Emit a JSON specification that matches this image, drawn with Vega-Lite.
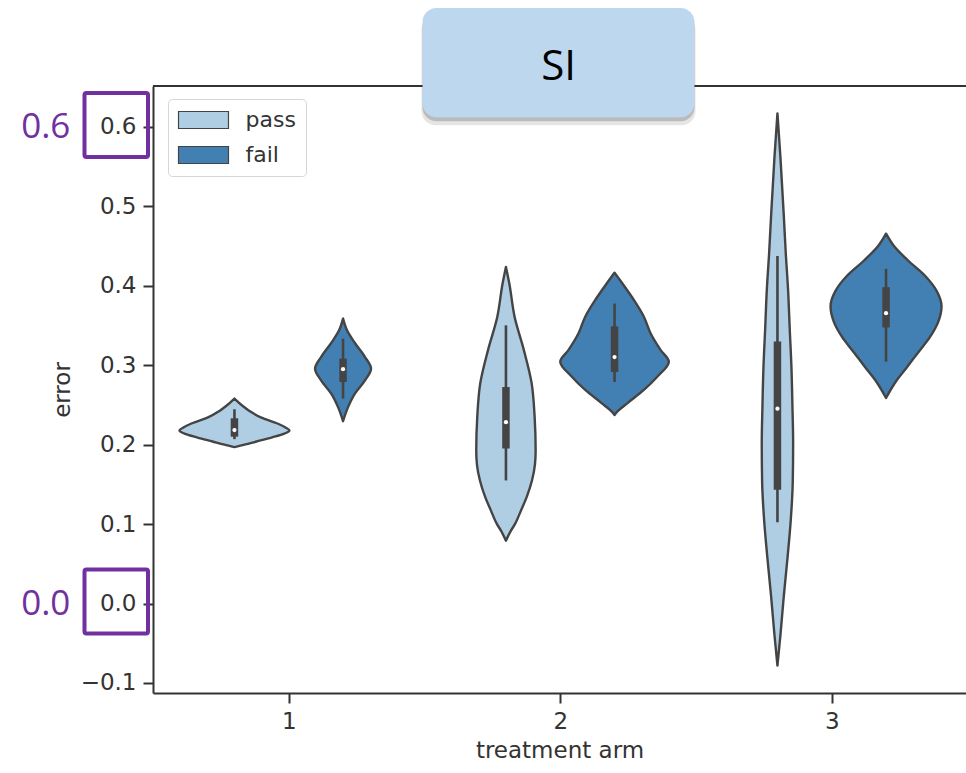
{
  "$schema": "https://vega.github.io/schema/vega-lite/v6.json",
  "width": 813,
  "height": 607,
  "autosize": {"type": "none"},
  "padding": {"left": 153, "top": 86, "right": 0, "bottom": 80},
  "background": "white",
  "config": {
    "view": {"stroke": null},
    "font": "DejaVu Sans",
    "axis": {
      "grid": false,
      "domainColor": "#333",
      "domainWidth": 2,
      "tickColor": "#333",
      "tickWidth": 2,
      "tickSize": 10,
      "labelFont": "DejaVu Sans",
      "labelFontSize": 23,
      "labelColor": "#333",
      "labelPadding": 7,
      "titleFont": "DejaVu Sans",
      "titleFontSize": 23,
      "titleFontWeight": "normal",
      "titleColor": "#333"
    }
  },
  "datasets": {
    "violins": [
      {"arm": 1, "status": "pass", "error": 0.258, "lo": 0.8, "hi": 0.8},
      {"arm": 1, "status": "pass", "error": 0.249, "lo": 0.7705, "hi": 0.8295},
      {"arm": 1, "status": "pass", "error": 0.2425, "lo": 0.7448, "hi": 0.8552},
      {"arm": 1, "status": "pass", "error": 0.234, "lo": 0.7006, "hi": 0.8994},
      {"arm": 1, "status": "pass", "error": 0.2267, "lo": 0.6416, "hi": 0.9584},
      {"arm": 1, "status": "pass", "error": 0.2217, "lo": 0.6122, "hi": 0.9878},
      {"arm": 1, "status": "pass", "error": 0.218, "lo": 0.5974, "hi": 1.0026},
      {"arm": 1, "status": "pass", "error": 0.214, "lo": 0.6158, "hi": 0.9842},
      {"arm": 1, "status": "pass", "error": 0.209, "lo": 0.6637, "hi": 0.9363},
      {"arm": 1, "status": "pass", "error": 0.204, "lo": 0.719, "hi": 0.881},
      {"arm": 1, "status": "pass", "error": 0.2, "lo": 0.7632, "hi": 0.8368},
      {"arm": 1, "status": "pass", "error": 0.197, "lo": 0.8, "hi": 0.8},

      {"arm": 1, "status": "fail", "error": 0.3588, "lo": 1.2, "hi": 1.2},
      {"arm": 1, "status": "fail", "error": 0.344, "lo": 1.1853, "hi": 1.2147},
      {"arm": 1, "status": "fail", "error": 0.3277, "lo": 1.1558, "hi": 1.2442},
      {"arm": 1, "status": "fail", "error": 0.3104, "lo": 1.119, "hi": 1.281},
      {"arm": 1, "status": "fail", "error": 0.2957, "lo": 1.0969, "hi": 1.3031},
      {"arm": 1, "status": "fail", "error": 0.281, "lo": 1.119, "hi": 1.281},
      {"arm": 1, "status": "fail", "error": 0.2646, "lo": 1.1558, "hi": 1.2442},
      {"arm": 1, "status": "fail", "error": 0.2473, "lo": 1.1816, "hi": 1.2184},
      {"arm": 1, "status": "fail", "error": 0.2296, "lo": 1.2, "hi": 1.2},

      {"arm": 2, "status": "pass", "error": 0.4238, "lo": 1.8, "hi": 1.8},
      {"arm": 2, "status": "pass", "error": 0.4033, "lo": 1.7878, "hi": 1.8122},
      {"arm": 2, "status": "pass", "error": 0.3608, "lo": 1.768, "hi": 1.832},
      {"arm": 2, "status": "pass", "error": 0.3188, "lo": 1.7337, "hi": 1.8663},
      {"arm": 2, "status": "pass", "error": 0.2772, "lo": 1.7053, "hi": 1.8947},
      {"arm": 2, "status": "pass", "error": 0.2347, "lo": 1.6943, "hi": 1.9057},
      {"arm": 2, "status": "pass", "error": 0.1927, "lo": 1.6906, "hi": 1.9094},
      {"arm": 2, "status": "pass", "error": 0.175, "lo": 1.6932, "hi": 1.9068},
      {"arm": 2, "status": "pass", "error": 0.155, "lo": 1.7042, "hi": 1.8958},
      {"arm": 2, "status": "pass", "error": 0.135, "lo": 1.7227, "hi": 1.8773},
      {"arm": 2, "status": "pass", "error": 0.117, "lo": 1.7448, "hi": 1.8552},
      {"arm": 2, "status": "pass", "error": 0.1, "lo": 1.7669, "hi": 1.8331},
      {"arm": 2, "status": "pass", "error": 0.0918, "lo": 1.7816, "hi": 1.8184},
      {"arm": 2, "status": "pass", "error": 0.0792, "lo": 1.8, "hi": 1.8},

      {"arm": 2, "status": "fail", "error": 0.4166, "lo": 2.2, "hi": 2.2},
      {"arm": 2, "status": "fail", "error": 0.4032, "lo": 2.1716, "hi": 2.2284},
      {"arm": 2, "status": "fail", "error": 0.3822, "lo": 2.1289, "hi": 2.2711},
      {"arm": 2, "status": "fail", "error": 0.3612, "lo": 2.0921, "hi": 2.3079},
      {"arm": 2, "status": "fail", "error": 0.3403, "lo": 2.0674, "hi": 2.3326},
      {"arm": 2, "status": "fail", "error": 0.3193, "lo": 2.0306, "hi": 2.3694},
      {"arm": 2, "status": "fail", "error": 0.3045, "lo": 2.0, "hi": 2.4},
      {"arm": 2, "status": "fail", "error": 0.2856, "lo": 2.0427, "hi": 2.3573},
      {"arm": 2, "status": "fail", "error": 0.2689, "lo": 2.0921, "hi": 2.3079},
      {"arm": 2, "status": "fail", "error": 0.2521, "lo": 2.1532, "hi": 2.2468},
      {"arm": 2, "status": "fail", "error": 0.2416, "lo": 2.1901, "hi": 2.2099},
      {"arm": 2, "status": "fail", "error": 0.2374, "lo": 2.2, "hi": 2.2},

      {"arm": 3, "status": "pass", "error": 0.6171, "lo": 2.8, "hi": 2.8},
      {"arm": 3, "status": "pass", "error": 0.5618, "lo": 2.789, "hi": 2.811},
      {"arm": 3, "status": "pass", "error": 0.4897, "lo": 2.7768, "hi": 2.8232},
      {"arm": 3, "status": "pass", "error": 0.4416, "lo": 2.7694, "hi": 2.8306},
      {"arm": 3, "status": "pass", "error": 0.3934, "lo": 2.7606, "hi": 2.8394},
      {"arm": 3, "status": "pass", "error": 0.3453, "lo": 2.7547, "hi": 2.8453},
      {"arm": 3, "status": "pass", "error": 0.2972, "lo": 2.7484, "hi": 2.8516},
      {"arm": 3, "status": "pass", "error": 0.2491, "lo": 2.7448, "hi": 2.8552},
      {"arm": 3, "status": "pass", "error": 0.201, "lo": 2.7422, "hi": 2.8578},
      {"arm": 3, "status": "pass", "error": 0.1529, "lo": 2.7436, "hi": 2.8564},
      {"arm": 3, "status": "pass", "error": 0.1048, "lo": 2.751, "hi": 2.849},
      {"arm": 3, "status": "pass", "error": 0.0567, "lo": 2.7632, "hi": 2.8368},
      {"arm": 3, "status": "pass", "error": 0.0085, "lo": 2.7768, "hi": 2.8232},
      {"arm": 3, "status": "pass", "error": -0.0396, "lo": 2.789, "hi": 2.811},
      {"arm": 3, "status": "pass", "error": -0.078, "lo": 2.8, "hi": 2.8},

      {"arm": 3, "status": "fail", "error": 0.4657, "lo": 3.2, "hi": 3.2},
      {"arm": 3, "status": "fail", "error": 0.4512, "lo": 3.1731, "hi": 3.2269},
      {"arm": 3, "status": "fail", "error": 0.4319, "lo": 3.119, "hi": 3.281},
      {"arm": 3, "status": "fail", "error": 0.4127, "lo": 3.0564, "hi": 3.3436},
      {"arm": 3, "status": "fail", "error": 0.3934, "lo": 3.0133, "hi": 3.3867},
      {"arm": 3, "status": "fail", "error": 0.3743, "lo": 2.9956, "hi": 3.4044},
      {"arm": 3, "status": "fail", "error": 0.355, "lo": 3.0074, "hi": 3.3926},
      {"arm": 3, "status": "fail", "error": 0.3357, "lo": 3.0379, "hi": 3.3621},
      {"arm": 3, "status": "fail", "error": 0.3165, "lo": 3.081, "hi": 3.319},
      {"arm": 3, "status": "fail", "error": 0.2972, "lo": 3.1238, "hi": 3.2762},
      {"arm": 3, "status": "fail", "error": 0.278, "lo": 3.1669, "hi": 3.2331},
      {"arm": 3, "status": "fail", "error": 0.2588, "lo": 3.2, "hi": 3.2}
    ],
    "boxes": [
      {"arm": 1, "status": "pass", "pos": 0.8, "wlo": 0.207, "q1": 0.2101, "median": 0.2185, "q3": 0.2333, "whi": 0.2446},
      {"arm": 1, "status": "fail", "pos": 1.2, "wlo": 0.258, "q1": 0.279, "median": 0.295, "q3": 0.3084, "whi": 0.3335},
      {"arm": 2, "status": "pass", "pos": 1.8, "wlo": 0.155, "q1": 0.1952, "median": 0.2284, "q3": 0.2726, "whi": 0.3503},
      {"arm": 2, "status": "fail", "pos": 2.2, "wlo": 0.279, "q1": 0.2914, "median": 0.3104, "q3": 0.349, "whi": 0.3777},
      {"arm": 3, "status": "pass", "pos": 2.8, "wlo": 0.1025, "q1": 0.1432, "median": 0.2453, "q3": 0.33, "whi": 0.4377},
      {"arm": 3, "status": "fail", "pos": 3.2, "wlo": 0.3045, "q1": 0.3477, "median": 0.3656, "q3": 0.3983, "whi": 0.4214}
    ],
    "callouts": [
      {"label": "0.6", "tick": 0.6},
      {"label": "0.0", "tick": 0.0}
    ],
    "titlebox": [
      {"title": "SI"}
    ]
  },
  "layer": [
    {
      "data": {"name": "violins"},
      "mark": {"type": "area", "orient": "horizontal", "interpolate": "monotone", "stroke": "#444", "strokeWidth": 2.4, "fillOpacity": 1, "strokeJoin": "round"},
      "encoding": {
        "y": {"field": "error", "type": "quantitative",
              "scale": {"domain": [-0.1126, 0.6516], "nice": false, "zero": false},
              "axis": {"title": "error", "values": [-0.1, 0, 0.1, 0.2, 0.3, 0.4, 0.5, 0.6], "format": ".1f", "titlePadding": 6}},
        "x": {"field": "lo", "type": "quantitative",
              "scale": {"domain": [0.5, 3.4945], "nice": false, "zero": false},
              "axis": {"title": "treatment arm", "values": [1, 2, 3], "format": "d", "titlePadding": 6}},
        "x2": {"field": "hi"},
        "color": {"field": "status", "type": "nominal",
                  "scale": {"domain": ["pass", "fail"], "range": ["#afcde3", "#4280b4"]},
                  "legend": {"title": null, "orient": "none", "legendX": 15, "legendY": 13,
                             "symbolType": "M-2.94,-1H2.94V1H-2.94Z", "symbolSize": 289,
                             "symbolOffset": 14.5,
                             "symbolStrokeColor": "#444", "symbolStrokeWidth": 1.2, "symbolOpacity": 1,
                             "labelFont": "DejaVu Sans", "labelFontSize": 22, "labelColor": "#333",
                             "labelOffset": 31, "padding": 10, "rowPadding": 13,
                             "strokeColor": "#d6d6d6", "fillColor": "white", "cornerRadius": 4}},
        "detail": {"field": "arm", "type": "nominal"}
      }
    },
    {
      "data": {"name": "boxes"},
      "mark": {"type": "rule", "color": "#444", "strokeWidth": 2.6},
      "encoding": {
        "x": {"field": "pos", "type": "quantitative"},
        "y": {"field": "wlo", "type": "quantitative"},
        "y2": {"field": "whi"}
      }
    },
    {
      "data": {"name": "boxes"},
      "mark": {"type": "rule", "color": "#444", "strokeWidth": 7.5},
      "encoding": {
        "x": {"field": "pos", "type": "quantitative"},
        "y": {"field": "q1", "type": "quantitative"},
        "y2": {"field": "q3"}
      }
    },
    {
      "data": {"name": "boxes"},
      "mark": {"type": "point", "filled": true, "color": "white", "size": 18, "opacity": 1},
      "encoding": {
        "x": {"field": "pos", "type": "quantitative"},
        "y": {"field": "median", "type": "quantitative"}
      }
    },
    {
      "data": {"name": "titlebox"},
      "mark": {"type": "rule", "color": "#333", "strokeWidth": 2},
      "encoding": {
        "y": {"datum": 0.6516, "type": "quantitative"}
      }
    },
    {
      "data": {"name": "titlebox"},
      "mark": {"type": "rect", "fill": "#000", "opacity": 0.1, "cornerRadius": 14, "yOffset": 8, "y2Offset": 8, "xOffset": -1, "x2Offset": 1},
      "encoding": {
        "x": {"datum": 1.4926, "type": "quantitative"},
        "x2": {"datum": 2.4945},
        "y": {"datum": 0.7498, "type": "quantitative"},
        "y2": {"datum": 0.6122}
      }
    },
    {
      "data": {"name": "titlebox"},
      "mark": {"type": "rect", "fill": "#000", "opacity": 0.18, "cornerRadius": 14, "yOffset": 4, "y2Offset": 4},
      "encoding": {
        "x": {"datum": 1.4926, "type": "quantitative"},
        "x2": {"datum": 2.4945},
        "y": {"datum": 0.7498, "type": "quantitative"},
        "y2": {"datum": 0.6122}
      }
    },
    {
      "data": {"name": "titlebox"},
      "mark": {"type": "rect", "fill": "#bdd7ee", "cornerRadius": 14},
      "encoding": {
        "x": {"datum": 1.4926, "type": "quantitative"},
        "x2": {"datum": 2.4945},
        "y": {"datum": 0.7498, "type": "quantitative"},
        "y2": {"datum": 0.6122}
      }
    },
    {
      "data": {"name": "titlebox"},
      "mark": {"type": "text", "font": "Open Sans", "fontSize": 42, "color": "#000", "align": "center", "baseline": "middle"},
      "encoding": {
        "x": {"datum": 1.9936, "type": "quantitative"},
        "y": {"datum": 0.6759, "type": "quantitative"},
        "text": {"field": "title"}
      }
    },
    {
      "data": {"name": "callouts"},
      "mark": {"type": "rect", "fill": null, "stroke": "#7030a0", "strokeWidth": 4, "cornerRadius": 2, "yOffset": -34, "y2Offset": 30},
      "encoding": {
        "x": {"datum": 0.2477, "type": "quantitative"},
        "x2": {"datum": 0.4816},
        "y": {"field": "tick", "type": "quantitative"},
        "y2": {"field": "tick"}
      }
    },
    {
      "data": {"name": "callouts"},
      "mark": {"type": "text", "font": "Open Sans", "fontSize": 35, "color": "#7030a0", "align": "center", "baseline": "middle"},
      "encoding": {
        "x": {"datum": 0.105, "type": "quantitative"},
        "y": {"field": "tick", "type": "quantitative"},
        "text": {"field": "label"}
      }
    }
  ]
}
